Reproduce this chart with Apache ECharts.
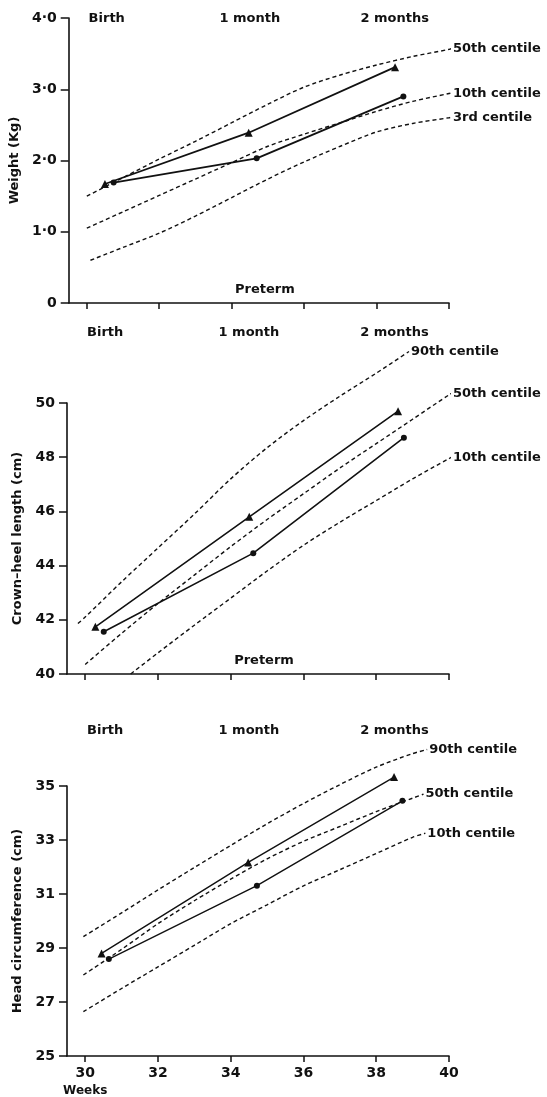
<!DOCTYPE html>
<html>
<head>
<meta charset="utf-8">
<script src="https://cdn.jsdelivr.net/npm/echarts@6/dist/echarts.min.js"></script>
<style>
html,body{margin:0;padding:0;background:#fff;}
#chart{width:547px;height:1097px;}
</style>
</head>
<body>
<div id="chart"></div>
<script>
// ---- axis / label data ----
const tickWeeks = [30, 32, 34, 36, 38, 40];
const monthWeeks = [30.55, 34.5, 38.5];
const monthLabels = ['Birth', '1 month', '2 months'];
const weightTicks = [0, 1, 2, 3, 4];
const lengthTicks = [40, 42, 44, 46, 48, 50];
const headTicks = [25, 27, 29, 31, 33, 35];

// ---- weight panel ----
const wt50Weeks = [30, 31, 32, 33, 34, 35, 36, 37, 38, 39, 40, 40.1];
const wt50 = [1.50, 1.76, 2.02, 2.27, 2.53, 2.79, 3.03, 3.20, 3.34, 3.46, 3.56, 3.58];
const wt10Weeks = [30, 31, 32, 33, 34, 35, 36, 37, 38, 39, 40, 40.1];
const wt10 = [1.05, 1.28, 1.51, 1.74, 1.97, 2.20, 2.37, 2.53, 2.69, 2.83, 2.94, 2.95];
const wt3Weeks = [30.1, 31, 32, 33, 34, 35, 36, 37, 38, 39, 40, 40.1];
const wt3 = [0.60, 0.78, 0.98, 1.22, 1.48, 1.74, 1.98, 2.20, 2.40, 2.52, 2.60, 2.61];
const wtTriWeeks = [30.5, 34.47, 38.51];
const wtTri = [1.67, 2.39, 3.31];
const wtDotWeeks = [30.74, 34.69, 38.74];
const wtDot = [1.69, 2.03, 2.90];

// ---- crown-heel length panel ----
const len90Weeks = [29.8, 30, 31, 32, 33, 34, 35, 36, 37, 38, 38.9];
const len90 = [41.86, 42.1, 43.4, 44.65, 45.9, 47.2, 48.35, 49.35, 50.25, 51.1, 51.9];
const len50Weeks = [30, 31, 32, 33, 34, 35, 36, 37, 38, 39, 40, 40.2];
const len50 = [40.35, 41.5, 42.6, 43.65, 44.7, 45.7, 46.65, 47.6, 48.5, 49.4, 50.3, 50.45];
const len10Weeks = [31.25, 32, 33, 34, 35, 36, 37, 38, 39, 40, 40.15];
const len10 = [40.0, 40.78, 41.8, 42.8, 43.8, 44.75, 45.6, 46.4, 47.2, 47.95, 48.05];
const lenTriWeeks = [30.28, 34.51, 38.6];
const lenTri = [41.74, 45.8, 49.7];
const lenDotWeeks = [30.51, 34.62, 38.76];
const lenDot = [41.56, 44.46, 48.72];

// ---- head circumference panel ----
const hc90Weeks = [29.95, 31, 32, 33, 34, 35, 36, 37, 38, 39, 39.4];
const hc90 = [29.42, 30.3, 31.15, 31.98, 32.8, 33.6, 34.35, 35.05, 35.7, 36.2, 36.35];
const hc50Weeks = [29.95, 31, 32, 33, 34, 35, 36, 37, 38, 39, 39.3];
const hc50 = [28.0, 28.95, 29.9, 30.75, 31.55, 32.3, 32.95, 33.5, 34.05, 34.55, 34.7];
const hc10Weeks = [29.95, 31, 32, 33, 34, 35, 36, 37, 38, 39, 39.35];
const hc10 = [26.64, 27.5, 28.3, 29.1, 29.9, 30.6, 31.3, 31.9, 32.5, 33.1, 33.25];
const hcTriWeeks = [30.45, 34.48, 38.49];
const hcTri = [28.8, 32.17, 35.33];
const hcDotWeeks = [30.65, 34.72, 38.72];
const hcDot = [28.59, 31.31, 34.45];

// ---- build option ----
const FONT = 'DejaVu Sans';
const INK = '#111';
const txt = (size) => ({ fontFamily: FONT, fontWeight: 'bold', fontSize: size || 13, color: INK });
const pairs = (xs, ys) => xs.map((x, i) => [x, ys[i]]);

const grids = [
  { left: 67, right: 98, top: 18, height: 285 },
  { left: 67, right: 98, top: 403, height: 271 },
  { left: 67, right: 98, top: 786, height: 270 }
];

function bottomX(gi, showLabels, name) {
  return {
    type: 'value', gridIndex: gi, position: 'bottom', min: 29.5, max: 40,
    axisLine: { show: true, onZero: false, lineStyle: { color: INK, width: 1.6 } },
    axisTick: { show: true, customValues: tickWeeks, length: 6, lineStyle: { color: INK, width: 1.5 } },
    axisLabel: showLabels ? {
      show: true, customValues: tickWeeks, margin: 9,
      formatter: (v) => v === 30 ? '{n|30}\n{w|Weeks}' : '{n|' + v + '}',
      rich: { n: Object.assign(txt(14), { lineHeight: 17 }), w: Object.assign(txt(12), { lineHeight: 17 }) }
    } : { show: false },
    splitLine: { show: false },
    name: name || '', nameLocation: 'middle', nameGap: -19.5,
    nameTextStyle: Object.assign(txt(13), { padding: [0, 0, 0, 12] })
  };
}
function topX(gi, offset) {
  return {
    type: 'value', gridIndex: gi, position: 'top', min: 29.5, max: 40, offset: offset,
    axisLine: { show: false }, axisTick: { show: false }, splitLine: { show: false },
    axisLabel: Object.assign(txt(13), {
      show: true, customValues: monthWeeks, margin: 0,
      formatter: (v) => { const i = monthWeeks.indexOf(v); return i >= 0 ? monthLabels[i] : ''; }
    })
  };
}
function yAx(gi, min, max, interval, name, fmt) {
  return {
    type: 'value', gridIndex: gi, min: min, max: max, interval: interval,
    axisLine: { show: true, lineStyle: { color: INK, width: 1.6 } },
    axisTick: { show: true, length: 8, lineStyle: { color: INK, width: 1.5 } },
    axisLabel: Object.assign(txt(14), { margin: 12, formatter: fmt }),
    splitLine: { show: false },
    name: name, nameLocation: 'middle', nameGap: 40, nameRotate: 90,
    nameTextStyle: txt(13)
  };
}
function centile(gi, xs, ys, label) {
  return {
    type: 'line', xAxisIndex: gi * 2, yAxisIndex: gi, data: pairs(xs, ys),
    showSymbol: false, symbol: 'none', smooth: 0.3, clip: false, silent: true,
    lineStyle: { color: INK, width: 1.4, type: [4, 3] },
    endLabel: Object.assign(txt(13), { show: true, formatter: label, distance: 2 }),
    z: 2
  };
}
function subject(gi, xs, ys, sym, width) {
  return {
    type: 'line', xAxisIndex: gi * 2, yAxisIndex: gi, data: pairs(xs, ys),
    symbol: sym, symbolSize: sym === 'triangle' ? 8 : 6, showSymbol: true, clip: false, silent: true,
    lineStyle: { color: INK, width: width }, itemStyle: { color: INK },
    z: 3
  };
}

const option = {
  backgroundColor: '#fff',
  animation: false,
  grid: grids,
  xAxis: [
    bottomX(0, false, 'Preterm'), topX(0, -7),
    bottomX(1, false, 'Preterm'), topX(1, 63.5),
    bottomX(2, true, ''), topX(2, 48.5)
  ].map((a, i) => Object.assign(a, { gridIndex: Math.floor(i / 2) })),
  yAxis: [
    yAx(0, 0, 4, 1, 'Weight (Kg)', (v) => v === 0 ? '0' : v.toFixed(1).replace('.', '·')),
    yAx(1, 40, 50, 2, 'Crown–heel length (cm)', (v) => String(v)),
    yAx(2, 25, 35, 2, 'Head circumference (cm)', (v) => String(v))
  ],
  series: [
    centile(0, wt50Weeks, wt50, '50th centile'),
    centile(0, wt10Weeks, wt10, '10th centile'),
    centile(0, wt3Weeks, wt3, '3rd centile'),
    subject(0, wtTriWeeks, wtTri, 'triangle', 1.8),
    subject(0, wtDotWeeks, wtDot, 'circle', 1.8),

    centile(1, len90Weeks, len90, '90th centile'),
    centile(1, len50Weeks, len50, '50th centile'),
    centile(1, len10Weeks, len10, '10th centile'),
    subject(1, lenTriWeeks, lenTri, 'triangle', 1.6),
    subject(1, lenDotWeeks, lenDot, 'circle', 1.6),

    centile(2, hc90Weeks, hc90, '90th centile'),
    centile(2, hc50Weeks, hc50, '50th centile'),
    centile(2, hc10Weeks, hc10, '10th centile'),
    subject(2, hcTriWeeks, hcTri, 'triangle', 1.4),
    subject(2, hcDotWeeks, hcDot, 'circle', 1.4)
  ]
};

const chart = echarts.init(document.getElementById('chart'), null, { renderer: 'canvas' });
chart.setOption(option);
</script>
</body>
</html>
